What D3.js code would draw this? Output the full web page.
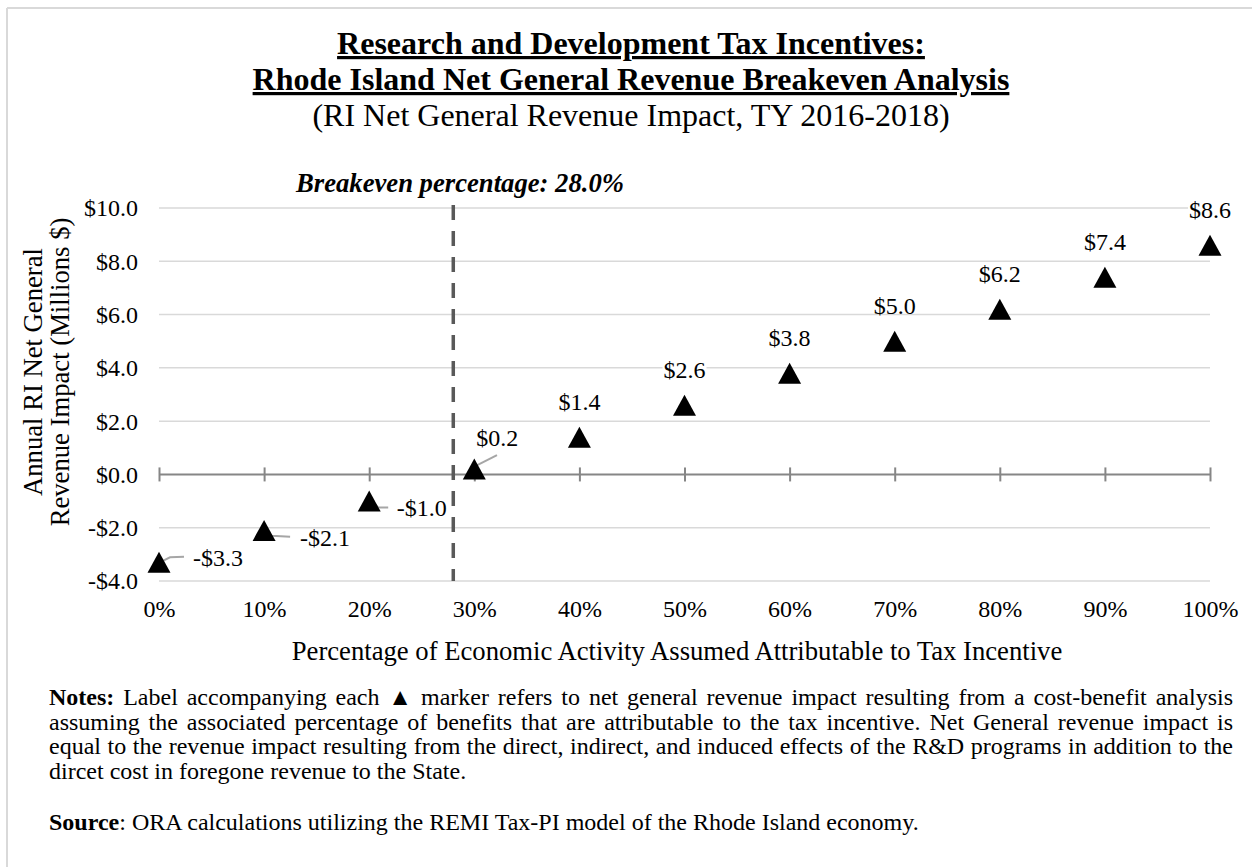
<!DOCTYPE html>
<html><head><meta charset="utf-8">
<script src="https://cdn.jsdelivr.net/npm/d3@7"></script>
<style>
html,body{margin:0;padding:0;background:#fff;}
svg{display:block;font-family:"Times New Roman","Liberation Serif",serif;}
</style></head><body>
<svg id="chart" width="1252" height="867"></svg>
<script>
// ---------- data ----------
const categories = [0, 10, 20, 30, 40, 50, 60, 70, 80, 90, 100];
const values = [-3.3, -2.1, -1.0, 0.2, 1.4, 2.6, 3.8, 5.0, 6.2, 7.4, 8.6];
const yTicks = [-4, -2, 0, 2, 4, 6, 8, 10];
const breakevenPct = 28.0;
const titleLines = ["Research and Development Tax Incentives:", "Rhode Island Net General Revenue Breakeven Analysis"];
const subtitle = "(RI Net General Revenue Impact, TY 2016-2018)";
const breakevenLabel = "Breakeven percentage: 28.0%";
const yAxisTitle = ["Annual RI Net General", "Revenue Impact (Millions $)"];
const xAxisTitle = "Percentage of Economic Activity Assumed Attributable to Tax Incentive";
const noteLines = [
  "Notes: Label accompanying each \u25B2 marker refers to net general revenue impact resulting from a cost-benefit analysis",
  "assuming the associated percentage of benefits that are attributable to the tax incentive. Net General revenue impact is",
  "equal to the revenue impact resulting from the direct, indirect, and induced effects of the R&D programs in addition to the",
  "dircet cost in foregone revenue to the State."
];
const sourceBold = "Source";
const sourceRest = ": ORA calculations utilizing the REMI Tax-PI model of the Rhode Island economy.";

// ---------- layout ----------
const svg = d3.select("#chart");
const W = 1252, H = 867;
const plot = {left: 159, right: 1210, top: 208, bottom: 581};
const x = d3.scaleLinear().domain([0, 100]).range([plot.left, plot.right]);
const y = d3.scaleLinear().domain([-4, 10]).range([plot.bottom, plot.top]);
const fmtMoney = v => (v < 0 ? "-$" : "$") + Math.abs(v).toFixed(1);

// outer frame (top + left visible)
svg.append("line").attr("x1", 7).attr("x2", W).attr("y1", 8).attr("y2", 8).attr("stroke", "#d9d9d9").attr("stroke-width", 2);
svg.append("line").attr("x1", 7).attr("x2", 7).attr("y1", 8).attr("y2", H).attr("stroke", "#d9d9d9").attr("stroke-width", 2);

// titles
const cx = 631;
svg.append("text").attr("x", cx).attr("y", 54).attr("text-anchor", "middle")
  .attr("font-size", 32).attr("font-weight", "bold").attr("text-decoration", "underline").text(titleLines[0]);
svg.append("text").attr("x", cx).attr("y", 90).attr("text-anchor", "middle")
  .attr("font-size", 32).attr("font-weight", "bold").attr("text-decoration", "underline").text(titleLines[1]);
svg.append("text").attr("x", cx).attr("y", 126).attr("text-anchor", "middle")
  .attr("font-size", 32).text(subtitle);

// gridlines
svg.append("g").selectAll("line").data(yTicks.filter(t => t !== 0)).join("line")
  .attr("x1", plot.left).attr("x2", plot.right)
  .attr("y1", d => y(d)).attr("y2", d => y(d))
  .attr("stroke", "#d9d9d9").attr("stroke-width", 1.5);

// y axis labels
const yAx = svg.append("g").attr("transform", `translate(138,0)`)
  .call(d3.axisLeft(y).tickValues(yTicks).tickFormat(fmtMoney).tickSize(0).tickPadding(0));
yAx.attr("font-family", null).attr("font-size", 24);
yAx.select(".domain").remove();
yAx.selectAll("text").attr("fill", "#000").attr("dy", "0.33em");

// zero axis line with cross ticks
svg.append("line").attr("x1", plot.left).attr("x2", plot.right).attr("y1", y(0)).attr("y2", y(0))
  .attr("stroke", "#868686").attr("stroke-width", 2);
const tickAx = svg.append("g").attr("transform", `translate(0,${y(0) - 7})`)
  .call(d3.axisBottom(x).tickValues(categories).tickFormat("").tickSizeInner(14).tickSizeOuter(0));
tickAx.select(".domain").remove();
tickAx.selectAll("line").attr("stroke", "#868686").attr("stroke-width", 2);

// x axis labels
const xAx = svg.append("g").attr("transform", `translate(0,617)`)
  .call(d3.axisBottom(x).tickValues(categories).tickFormat(d => d + "%").tickSize(0).tickPadding(0));
xAx.attr("font-family", null).attr("font-size", 24);
xAx.select(".domain").remove();
xAx.selectAll("text").attr("fill", "#000").attr("dy", 0).attr("y", 0);

// axis titles
svg.append("text").attr("x", 677).attr("y", 660).attr("text-anchor", "middle").attr("font-size", 26.67).text(xAxisTitle);
const yt = svg.append("g").attr("transform", "translate(0,372) rotate(-90)");
yt.append("text").attr("x", 0).attr("y", 42).attr("text-anchor", "middle").attr("font-size", 26.67).text(yAxisTitle[0]);
yt.append("text").attr("x", 0).attr("y", 69).attr("text-anchor", "middle").attr("font-size", 26.67).text(yAxisTitle[1]);

// breakeven dashed line + label
svg.append("line").attr("x1", x(breakevenPct)).attr("x2", x(breakevenPct))
  .attr("y1", plot.top - 3).attr("y2", plot.bottom)
  .attr("stroke", "#595959").attr("stroke-width", 3.5).attr("stroke-dasharray", "15 11");
svg.append("text").attr("x", 296).attr("y", 192).attr("font-size", 26.67)
  .attr("font-weight", "bold").attr("font-style", "italic").text(breakevenLabel);

// label placement (annotation layout)
const labelPlacement = {
  0: {dx: 34, dy: 4, anchor: "start", leader: [[1, 0], [11, -5], [25, -5.5]]},
  10: {dx: 36, dy: 16, anchor: "start", leader: [[1, 1.4], [7.6, 5.4], [26, 6.4]]},
  20: {dx: 27.5, dy: 15, anchor: "start", leader: [[3, 0], [9, 6.5], [19, 6.5]]},
  30: {dx: 2, dy: -23, anchor: "start", leader: [[0, -2.4], [22.7, -14]]}
};
const pts = categories.map((c, i) => ({c, v: values[i]}));

// leaders
const lineGen = d3.line();
svg.append("g").selectAll("path").data(pts.filter(p => labelPlacement[p.c])).join("path")
  .attr("d", p => lineGen(labelPlacement[p.c].leader.map(([a, b]) => [x(p.c) + a, y(p.v) + b])))
  .attr("fill", "none").attr("stroke", "#a6a6a6").attr("stroke-width", 2);

// triangle markers (bbox-centred)
const triW = 23, triH = 21;
const triType = {draw(ctx) {
  ctx.moveTo(0, -triH / 2); ctx.lineTo(triW / 2, triH / 2); ctx.lineTo(-triW / 2, triH / 2); ctx.closePath();
}};
svg.append("g").selectAll("path").data(pts).join("path")
  .attr("transform", p => `translate(${x(p.c)},${y(p.v)})`)
  .attr("d", d3.symbol().type(triType)())
  .attr("fill", "#000");

// value labels
const lg = svg.append("g");
pts.forEach(p => {
  const pl = labelPlacement[p.c] || {dx: 0, dy: -27, anchor: "middle"};
  const bx = x(p.c) + pl.dx, by = y(p.v) + pl.dy;
  const bg = lg.append("rect").attr("fill", "#fff");
  const t = lg.append("text").attr("x", bx).attr("y", by).attr("text-anchor", pl.anchor)
    .attr("font-size", 24).text(fmtMoney(p.v));
  const bb = t.node().getBBox();
  bg.attr("x", bb.x - 1).attr("y", by - 17).attr("width", bb.width + 2).attr("height", 16);
});

// notes (justified)
const ng = svg.append("g");
const nx0 = 49, nx1 = 1233, nfs = 24;
function justify(text, yy, boldFirst) {
  const words = text.split(" ");
  const nodes = words.map((w, i) => ng.append("text").attr("y", yy).attr("font-size", nfs)
    .attr("font-weight", boldFirst && i === 0 ? "bold" : "normal").text(w));
  const widths = nodes.map(n => n.node().getComputedTextLength());
  const gap = (nx1 - nx0 - d3.sum(widths)) / (words.length - 1);
  let xx = nx0;
  nodes.forEach((n, i) => { n.attr("x", xx); xx += widths[i] + gap; });
}
const noteY = [705, 729.5, 754, 778.5];
noteLines.forEach((l, i) => {
  if (i < noteLines.length - 1) justify(l, noteY[i], i === 0);
  else ng.append("text").attr("x", nx0).attr("y", noteY[i]).attr("font-size", nfs).text(l);
});
const st = ng.append("text").attr("x", nx0).attr("y", 830).attr("font-size", nfs);
st.append("tspan").attr("font-weight", "bold").text(sourceBold);
st.append("tspan").text(sourceRest);
</script>
</body></html>
